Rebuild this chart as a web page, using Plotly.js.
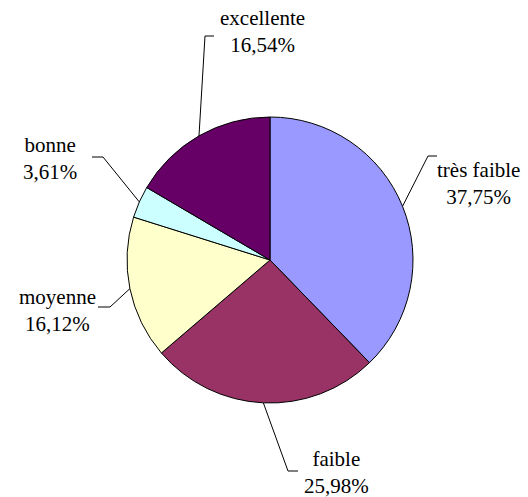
<!DOCTYPE html>
<html><head><meta charset="utf-8">
<script src="https://cdn.plot.ly/plotly-3.0.1.min.js"></script>
<style>
html,body{margin:0;padding:0;background:#fff}
.modebar-container,.modebar{display:none !important}
text.annotation-text, .annotation-text tspan{font-family:'Liberation Serif',serif !important}
</style>
</head><body>
<div id="chart" style="width:528px;height:497px"></div>
<script>
const categories = ["très faible", "faible", "moyenne", "bonne", "excellente"];
const values = [37.75, 25.98, 16.12, 3.61, 16.54];
const valueLabels = ["37,75%", "25,98%", "16,12%", "3,61%", "16,54%"];
const colors = ["#9999FF", "#993366", "#FFFFCC", "#CCFFFF", "#660066"];

const W = 528, H = 497;
const cx = 270, cy = 260, R = 143;
// label block centre (px) and elbow point / horizontal end (px) for each leader
const labelPos = [[478, 183], [336, 472], [57, 310], [50, 158], [262, 32]];
const elbow = [[428, 156], [288, 471], [110, 307], [103, 157], [205, 36]];
const elbowEnd = [[437, 156], [298, 471], [98, 307], [92, 157], [214, 36]];

const total = values.reduce((a, b) => a + b, 0);
const px = x => x / W, py = y => 1 - y / H;

const shapes = [], annotations = [];
let cum = 0;
values.forEach((v, i) => {
  const mid = (cum + v / 2) / total * 2 * Math.PI;
  cum += v;
  const ex = cx + R * Math.sin(mid), ey = cy - R * Math.cos(mid);
  shapes.push({
    type: "path", xref: "paper", yref: "paper",
    path: `M ${px(ex)} ${py(ey)} L ${px(elbow[i][0])} ${py(elbow[i][1])} L ${px(elbowEnd[i][0])} ${py(elbowEnd[i][1])}`,
    line: {color: "#000", width: 1}
  });
  annotations.push({
    xref: "paper", yref: "paper", x: px(labelPos[i][0]), y: py(labelPos[i][1]),
    xanchor: "center", yanchor: "middle", showarrow: false,
    text: categories[i] + "<br>" + valueLabels[i],
    font: {family: "Liberation Serif, serif", size: 21, color: "#000"}
  });
});

const trace = {
  type: "pie", values: values, labels: categories,
  marker: {colors: colors, line: {color: "#000", width: 1}},
  sort: false, direction: "clockwise", rotation: 0,
  textinfo: "none", hoverinfo: "none", showlegend: false,
  domain: {x: [(cx - R) / W, (cx + R) / W], y: [py(cy + R), py(cy - R)]}
};

function serifFix() {
  document.querySelectorAll("#chart .annotation-text, #chart .annotation-text tspan").forEach(t => {
    t.style.setProperty("font-family", "'Liberation Serif', serif", "important");
    t.setAttribute("font-family", "Liberation Serif, serif");
  });
}

const gd = document.getElementById("chart");
new MutationObserver(serifFix).observe(gd, {childList: true, subtree: true});

Plotly.newPlot(gd, [trace], {
  width: W, height: H, margin: {l: 0, r: 0, t: 0, b: 0},
  paper_bgcolor: "#fff", plot_bgcolor: "#fff",
  font: {family: "Liberation Serif, serif", size: 21, color: "#000"},
  shapes: shapes, annotations: annotations, showlegend: false
}).then(serifFix);
serifFix();
</script>
</body></html>
